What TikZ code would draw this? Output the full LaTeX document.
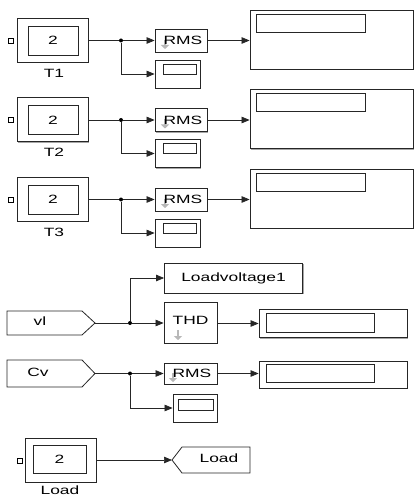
\documentclass[tikz,border=0pt]{standalone}
\usepackage{fontspec}
\usepackage{graphicx}
\setmainfont{Liberation Sans}
\usetikzlibrary{arrows.meta,shadows}
\newcommand{\sx}[1]{\scalebox{1.45}[1]{#1}}
\begin{document}
\begin{tikzpicture}[x=1pt,y=-1pt,
 blk/.style={draw=black!85, line width=0.8pt, fill=white, inner sep=0pt,
   drop shadow={shadow xshift=1.2pt, shadow yshift=-1.2pt, opacity=0.35, fill=black}},
 inr/.style={draw=black!85, line width=0.9pt, fill=white, inner sep=0pt},
 wire/.style={draw=black!85, line width=0.7pt},
 arr/.style={wire, -{Triangle[length=8pt,width=6.5pt]}},
 jdot/.style={circle, fill=black, inner sep=0pt, minimum size=4pt},
 port/.style={draw=black, line width=0.9pt, fill=white, inner sep=0pt, minimum size=5pt},
 txt/.style={font=\fontsize{12}{14}\selectfont, inner sep=0pt},
 icon/.style={draw=black!28, line width=2.6pt, -{Triangle[length=4pt,width=8pt]}}
]
\useasboundingbox (0,0) rectangle (415,497);

% ---- T1, T2, T3 chains ----
\foreach \i/\d in {1/0,2/79.5,3/159}{
  \node[blk, minimum width=71pt, minimum height=44pt] (T\i) at (52.5,{40+\d}) {};
  \node[inr, minimum width=50pt, minimum height=29pt, txt] (Ti\i) at (53,{40.5+\d}) {\sx{2}};
  \node[port] (P\i) at (10.5,{40.5+\d}) {};
  \node[txt] (L\i) at (54,{73+\d}) {\sx{T\i}};
  \node[blk, minimum width=52pt, minimum height=23pt] (R\i) at (181,{40.5+\d}) {};
  \draw[icon] (165,{40+\d}) -- (165,{49+\d});
  \node[txt] (Rt\i) at (183,{40.5+\d}) {\sx{RMS}};
  \node[blk, minimum width=45pt, minimum height=28pt] (S\i) at (177.5,{74+\d}) {};
  \node[inr, minimum width=33pt, minimum height=10pt] (Si\i) at (179.5,{69+\d}) {};
  \node[blk, minimum width=163pt, minimum height=59pt] (D\i) at (331.5,{39.5+\d}) {};
  \node[inr, minimum width=109pt, minimum height=18pt] (Di\i) at (310.5,{23+\d}) {};
  \node[jdot] (J\i) at (121,{40.5+\d}) {};
  \draw[wire] (T\i.east |- J\i) -- (J\i);
  \draw[arr] (J\i) -- (R\i.west);
  \draw[arr] (J\i) |- (S\i.west);
  \draw[arr] (R\i.east) -- (D\i.west |- R\i.east);
}

% ---- vl chain ----
\filldraw[fill=white, draw=black!85, line width=0.8pt] (7,311) -- (82,311) -- (95,323) -- (82,335) -- (7,335) -- cycle;
\coordinate (vl) at (95,323);
\node[txt] (vltext) at (40,321) {\sx{vl}};
\node[jdot] (Jv) at (130,323) {};
\node[blk, minimum width=138pt, minimum height=30pt, txt] (LV) at (233.5,278) {\sx{Loadvoltage1}};
\node[blk, minimum width=53pt, minimum height=41pt] (THD) at (190.5,322.5) {};
\draw[icon] (178,330) -- (178,340);
\node[txt] (THDt) at (190.5,320) {\sx{THD}};
\node[blk, minimum width=148pt, minimum height=28pt] (DV) at (333,323.5) {};
\node[inr, minimum width=108pt, minimum height=19pt] (DVi) at (320,322.5) {};
\draw[wire] (vl) -- (Jv);
\draw[arr] (Jv) -- (THD.west |- Jv);
\draw[arr] (Jv) |- (LV.west);
\draw[arr] (THD.east |- DV.west) -- (DV.west);

% ---- Cv chain ----
\filldraw[fill=white, draw=black!85, line width=0.8pt] (7,360) -- (82,360) -- (95,373.5) -- (82,387) -- (7,387) -- cycle;
\coordinate (cv) at (95,373.5);
\node[txt] (cvtext) at (38,372) {\sx{Cv}};
\node[jdot] (Jc) at (130,373.5) {};
\node[blk, minimum width=53pt, minimum height=21pt] (RC) at (190.5,373.5) {};
\draw[icon] (173,373) -- (173,382);
\node[txt] (RCt) at (192,373.5) {\sx{RMS}};
\node[blk, minimum width=44pt, minimum height=28pt] (SC) at (195,408) {};
\node[inr, minimum width=35pt, minimum height=11pt] (SCi) at (195.5,404.5) {};
\node[blk, minimum width=148pt, minimum height=27pt] (DC) at (333,374.5) {};
\node[inr, minimum width=108pt, minimum height=18pt] (DCi) at (320,373) {};
\draw[wire] (cv) -- (Jc);
\draw[arr] (Jc) -- (RC.west);
\draw[arr] (Jc) |- (SC.west);
\draw[arr] (RC.east) -- (DC.west |- RC.east);

% ---- Load ----
\node[blk, minimum width=71pt, minimum height=44pt] (LB) at (60.5,460) {};
\node[inr, minimum width=53pt, minimum height=28pt, txt] (LBi) at (59.5,459) {\sx{2}};
\node[port] (LP) at (19.5,460.5) {};
\node[txt] (LBl) at (60,490) {\sx{Load}};
\filldraw[fill=white, draw=black!85, line width=0.8pt] (172,460) -- (182,447) -- (250,447) -- (250,473) -- (182,473) -- cycle;
\coordinate (gl) at (172,460);
\node[txt] (gltext) at (219,458) {\sx{Load}};
\draw[arr] (LB.east |- gl) -- (gl);
\end{tikzpicture}
\end{document}
